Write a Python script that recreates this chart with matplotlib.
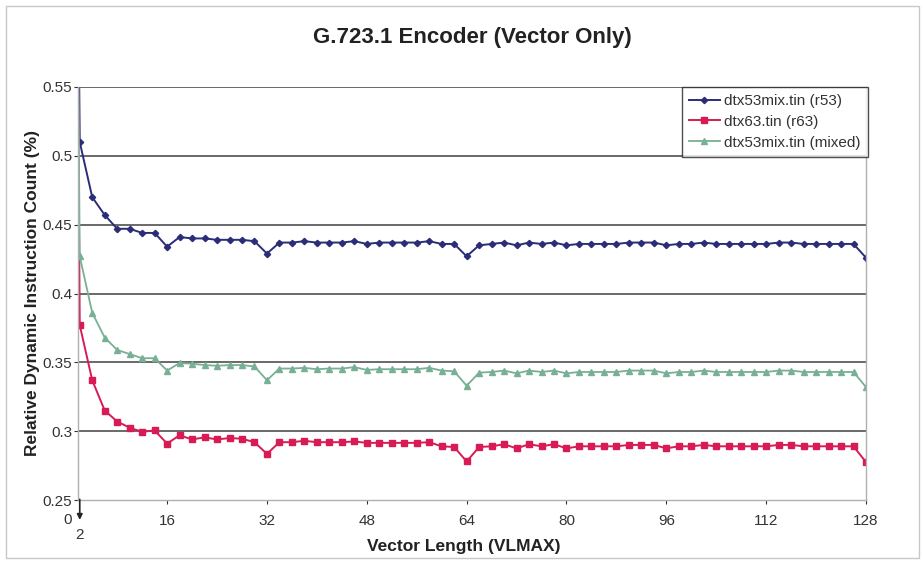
import matplotlib.pyplot as plt
from matplotlib.patches import Rectangle

plt.rcParams["font.family"] = ["Liberation Sans", "DejaVu Sans"]

# VLMAX = 1, then 2, 4, ..., 128 (the VLMAX=1 point is far above the axis)
vlmax = [1] + list(range(2, 129, 2))

r53 = [1.0,
       0.510, 0.470, 0.457, 0.447, 0.447, 0.444, 0.444, 0.434,
       0.441, 0.440, 0.440, 0.439, 0.439, 0.439, 0.438, 0.429,
       0.437, 0.437, 0.438, 0.437, 0.437, 0.437, 0.438, 0.436,
       0.437, 0.437, 0.437, 0.437, 0.438, 0.436, 0.436, 0.427,
       0.435, 0.436, 0.437, 0.435, 0.437, 0.436, 0.437, 0.435,
       0.436, 0.436, 0.436, 0.436, 0.437, 0.437, 0.437, 0.435,
       0.436, 0.436, 0.437, 0.436, 0.436, 0.436, 0.436, 0.436,
       0.437, 0.437, 0.436, 0.436, 0.436, 0.436, 0.436, 0.426]

r63 = [1.0,
       0.377, 0.337, 0.315, 0.307, 0.3025, 0.2995, 0.3005, 0.291,
       0.297, 0.294, 0.2955, 0.294, 0.295, 0.2945, 0.292, 0.2835,
       0.292, 0.292, 0.293, 0.292, 0.292, 0.292, 0.2925, 0.2915,
       0.2915, 0.2915, 0.2915, 0.2915, 0.292, 0.289, 0.2885, 0.278,
       0.2885, 0.289, 0.2905, 0.2875, 0.2905, 0.289, 0.2905, 0.2875,
       0.289, 0.289, 0.289, 0.289, 0.290, 0.290, 0.290, 0.2875,
       0.289, 0.289, 0.290, 0.289, 0.289, 0.289, 0.289, 0.289,
       0.290, 0.290, 0.289, 0.289, 0.289, 0.289, 0.289, 0.2775]

mixed = [1.0,
         0.427, 0.386, 0.368, 0.359, 0.356, 0.353, 0.353, 0.344,
         0.3495, 0.349, 0.348, 0.3475, 0.348, 0.348, 0.347, 0.337,
         0.3455, 0.3455, 0.346, 0.345, 0.3455, 0.3455, 0.3465, 0.3445,
         0.345, 0.345, 0.345, 0.345, 0.346, 0.344, 0.3435, 0.333,
         0.3425, 0.343, 0.344, 0.342, 0.344, 0.343, 0.344, 0.342,
         0.343, 0.343, 0.343, 0.343, 0.344, 0.344, 0.344, 0.342,
         0.343, 0.343, 0.344, 0.343, 0.343, 0.343, 0.343, 0.343,
         0.344, 0.344, 0.343, 0.343, 0.343, 0.343, 0.343, 0.332]

labels = ["dtx53mix.tin (r53)", "dtx63.tin (r63)", "dtx53mix.tin (mixed)"]
x_ticks = [16, 32, 48, 64, 80, 96, 112, 128]
y_ticks = [0.25, 0.3, 0.35, 0.4, 0.45, 0.5, 0.55]

fig = plt.figure(figsize=(9.23, 5.65), dpi=100)
ax = fig.add_axes([78 / 923, 1 - 500 / 565, 788 / 923, 413 / 565])

fig.patches.append(Rectangle((0.006, 0.012), 0.99, 0.978, transform=fig.transFigure,
                             fill=False, edgecolor="#c8c8c8", linewidth=1.0))

ax.plot(vlmax, r53, color="#2b2d78", marker="D", markersize=3.2, linewidth=1.4,
        label=labels[0])
ax.plot(vlmax, r63, color="#d81b55", marker="s", markersize=4.5, linewidth=1.4,
        label=labels[1])
ax.plot(vlmax, mixed, color="#78b096", marker="^", markersize=3.8, linewidth=1.3,
        label=labels[2])

ax.set_xlim(1.72, 128)
ax.set_ylim(0.25, 0.55)
ax.set_xticks(x_ticks)
ax.set_yticks(y_ticks)
ax.set_yticklabels(["0.25", "0.3", "0.35", "0.4", "0.45", "0.5", "0.55"])
ax.tick_params(axis="both", labelsize=11, colors="#333333", length=3,
               direction="out", width=0.8)
ax.tick_params(axis="x", pad=7)
ax.tick_params(axis="y", pad=1)

for y in y_ticks[1:]:
    ax.axhline(y, color="#505050", linewidth=1.2, zorder=0)

for side in ["left", "bottom", "right"]:
    ax.spines[side].set_color("#b0b0b0")
    ax.spines[side].set_linewidth(1.0)
ax.spines["top"].set_visible(False)

# the "0" label and the arrow marking VLMAX = 2
ax.text(0, 0.2355, "0", ha="center", va="center", fontsize=11, color="#333333",
        clip_on=False)
ax.annotate("", xy=(2, 0.2335), xytext=(2, 0.2525), annotation_clip=False,
            arrowprops=dict(arrowstyle="-|>", color="#222222", lw=1.2,
                            mutation_scale=8))
ax.text(2, 0.2245, "2", ha="center", va="center", fontsize=11, color="#333333",
        clip_on=False)

fig.text((78 + 866) / 2 / 923, 1 - 37 / 565, "G.723.1 Encoder (Vector Only)",
         ha="center", va="center", fontsize=16, fontweight="bold", color="#222222")
ax.set_xlabel("Vector Length (VLMAX)", fontsize=12.5, fontweight="bold",
              labelpad=9, color="#222222")
ax.xaxis.set_label_coords(0.49, -0.095)
ax.set_ylabel("Relative Dynamic Instruction Count (%)", fontsize=12.5,
              fontweight="bold", labelpad=2, color="#222222")

leg = ax.legend(loc="upper right", bbox_to_anchor=(1.002, 1.0), borderaxespad=0,
                fontsize=11, fancybox=False, handlelength=2.0, handletextpad=0.3,
                labelspacing=0.45, borderpad=0.45)
leg.get_frame().set_edgecolor("#222222")
leg.get_frame().set_linewidth(1.0)
for t in leg.get_texts():
    t.set_color("#333333")

fig.savefig("out.png", dpi=100)
